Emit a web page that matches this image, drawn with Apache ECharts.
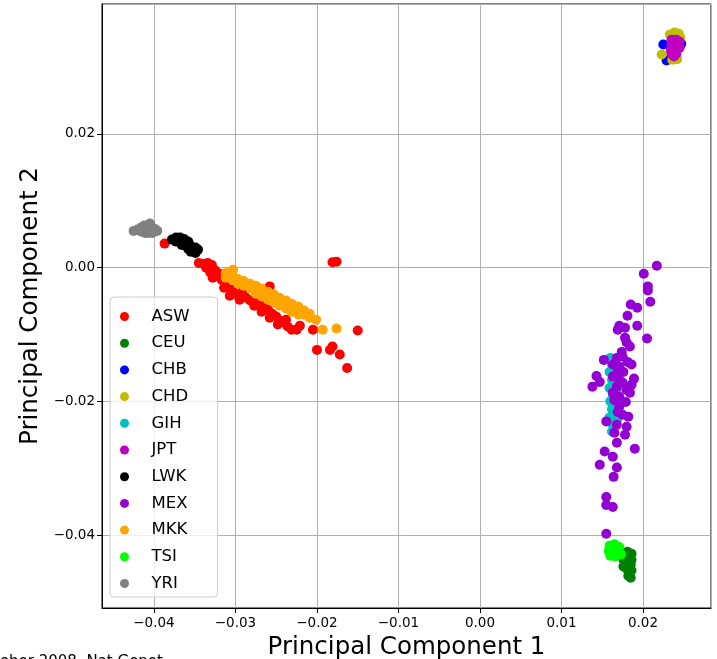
<!DOCTYPE html>
<html>
<head>
<meta charset="utf-8">
<script src="https://cdn.jsdelivr.net/npm/echarts@6/dist/echarts.min.js"></script>
<style>
  html, body { margin: 0; padding: 0; background: #fff; }
  #chart-container { width: 717px; height: 659px; }
</style>
</head>
<body>
<div id="chart-container"></div>
<script>
// populations, in the order matplotlib drew them (later ones sit on top)
const populations = ['ASW', 'CEU', 'CHB', 'CHD', 'GIH', 'JPT', 'LWK', 'MEX', 'MKK', 'TSI', 'YRI'];
const colors = ['#ff0000', '#008000', '#0000ff', '#bfbf00', '#00bfbf', '#bf00bf', '#000000', '#9400d3', '#ffa500', '#00ff00', '#808080'];

// [PC1, PC2] per sample
const ASW = [
  [-0.0387, 0.0036], [-0.0345, 0.0007], [-0.0339, 0.0006], [-0.0334, 0.0007], [-0.0329, 0.0004],
  [-0.0336, 0.0000], [-0.0330, -0.0002], [-0.0325, -0.0004], [-0.0331, -0.0007], [-0.0324, -0.0012],
  [-0.0319, -0.0009], [-0.0328, -0.0015], [-0.0317, -0.0018], [-0.0312, -0.0024], [-0.0314, -0.0030],
  [-0.0304, -0.0033], [-0.0298, -0.0040], [-0.0292, -0.0037], [-0.0287, -0.0045], [-0.0282, -0.0049],
  [-0.0276, -0.0052], [-0.0270, -0.0055], [-0.0277, -0.0057], [-0.0265, -0.0060], [-0.0260, -0.0063],
  [-0.0255, -0.0069], [-0.0258, -0.0075], [-0.0250, -0.0073], [-0.0246, -0.0079], [-0.0248, -0.0085],
  [-0.0241, -0.0082], [-0.0236, -0.0088], [-0.0231, -0.0093], [-0.0225, -0.0093], [-0.0221, -0.0087],
  [-0.0205, -0.0093], [-0.0258, -0.0028], [-0.0181, 0.0008], [-0.0176, 0.0009], [-0.0200, -0.0123],
  [-0.0184, -0.0123], [-0.0181, -0.0118], [-0.0172, -0.0130], [-0.0163, -0.0150], [-0.0150, -0.0094],
  [-0.0307, -0.0042], [-0.0295, -0.0048], [-0.0268, -0.0066], [-0.0238, -0.0078], [-0.0290, -0.0030],
  [-0.0273, -0.0045]
];
const CEU = [
  [0.0181, -0.0425], [0.0186, -0.0428], [0.0180, -0.0434], [0.0186, -0.0437], [0.0179, -0.0443],
  [0.0185, -0.0444], [0.0181, -0.0452], [0.0186, -0.0453], [0.0182, -0.0461], [0.0185, -0.0464],
  [0.0176, -0.0447], [0.0176, -0.0437]
];
const CHB = [
  [0.0225, 0.0334], [0.0229, 0.0310], [0.0233, 0.0334], [0.0239, 0.0329], [0.0243, 0.0338], [0.0247, 0.0335]
];
const CHD = [
  [0.0233, 0.0349], [0.0239, 0.0352], [0.0244, 0.0350], [0.0246, 0.0344], [0.0236, 0.0346],
  [0.0241, 0.0344], [0.0223, 0.0319], [0.0236, 0.0311], [0.0242, 0.0312]
];
const GIH = [
  [0.0160, -0.0135], [0.0162, -0.0145], [0.0159, -0.0156], [0.0162, -0.0168], [0.0159, -0.0180],
  [0.0163, -0.0190], [0.0160, -0.0200], [0.0162, -0.0212], [0.0159, -0.0224], [0.0163, -0.0235],
  [0.0162, -0.0245], [0.0166, -0.0153], [0.0168, -0.0183], [0.0166, -0.0212], [0.0168, -0.0227]
];
const JPT = [
  [0.0235, 0.0341], [0.0241, 0.0341], [0.0235, 0.0334], [0.0241, 0.0334], [0.0234, 0.0326],
  [0.0240, 0.0326], [0.0245, 0.0329], [0.0235, 0.0320], [0.0241, 0.0320], [0.0238, 0.0316],
  [0.0245, 0.0338]
];
const LWK = [
  [-0.0378, 0.0042], [-0.0373, 0.0045], [-0.0368, 0.0045], [-0.0363, 0.0043], [-0.0373, 0.0039],
  [-0.0368, 0.0039], [-0.0363, 0.0037], [-0.0358, 0.0039], [-0.0361, 0.0033], [-0.0356, 0.0034],
  [-0.0353, 0.0030], [-0.0358, 0.0028], [-0.0351, 0.0025], [-0.0349, 0.0022], [-0.0346, 0.0027],
  [-0.0355, 0.0024], [-0.0349, 0.0030], [-0.0366, 0.0034]
];
const MEX = [
  [0.0217, 0.0003], [0.0201, -0.0009], [0.0206, -0.0028], [0.0206, -0.0034], [0.0209, -0.0051],
  [0.0185, -0.0055], [0.0193, -0.0060], [0.0181, -0.0072], [0.0193, -0.0087], [0.0171, -0.0087],
  [0.0169, -0.0093], [0.0178, -0.0090], [0.0205, -0.0106], [0.0178, -0.0105], [0.0180, -0.0112],
  [0.0184, -0.0118], [0.0174, -0.0126], [0.0168, -0.0135], [0.0175, -0.0133], [0.0152, -0.0138],
  [0.0181, -0.0141], [0.0186, -0.0145], [0.0163, -0.0145], [0.0171, -0.0148], [0.0143, -0.0162],
  [0.0138, -0.0178], [0.0147, -0.0171], [0.0189, -0.0166], [0.0186, -0.0175], [0.0163, -0.0163],
  [0.0168, -0.0178], [0.0175, -0.0172], [0.0180, -0.0183], [0.0163, -0.0187], [0.0171, -0.0193],
  [0.0184, -0.0187], [0.0171, -0.0208], [0.0155, -0.0230], [0.0182, -0.0223], [0.0168, -0.0235],
  [0.0180, -0.0238], [0.0165, -0.0247], [0.0178, -0.0250], [0.0168, -0.0262], [0.0153, -0.0275],
  [0.0163, -0.0283], [0.0190, -0.0271], [0.0147, -0.0295], [0.0168, -0.0299], [0.0164, -0.0313],
  [0.0155, -0.0343], [0.0163, -0.0358], [0.0155, -0.0355], [0.0155, -0.0398],
  [0.0169, -0.0156], [0.0176, -0.0156], [0.0171, -0.0168], [0.0179, -0.0201], [0.0169, -0.0216],
  [0.0175, -0.0220], [0.0165, -0.0198]
];
const MKK = [
  [-0.0312, -0.0008], [-0.0312, -0.0015], [-0.0304, -0.0011], [-0.0304, -0.0018], [-0.0303, -0.0003],
  [-0.0297, -0.0017], [-0.0297, -0.0024], [-0.0290, -0.0020], [-0.0290, -0.0027],
  [-0.0282, -0.0024], [-0.0282, -0.0031], [-0.0275, -0.0027], [-0.0275, -0.0034], [-0.0275, -0.0039],
  [-0.0268, -0.0031], [-0.0268, -0.0037], [-0.0268, -0.0043], [-0.0260, -0.0036], [-0.0260, -0.0042],
  [-0.0260, -0.0048], [-0.0253, -0.0040], [-0.0253, -0.0046], [-0.0253, -0.0052], [-0.0246, -0.0045],
  [-0.0246, -0.0051], [-0.0246, -0.0057], [-0.0238, -0.0049], [-0.0238, -0.0055], [-0.0238, -0.0061],
  [-0.0231, -0.0054], [-0.0231, -0.0060], [-0.0231, -0.0066], [-0.0223, -0.0058], [-0.0223, -0.0064],
  [-0.0223, -0.0070], [-0.0216, -0.0064], [-0.0216, -0.0070], [-0.0209, -0.0069], [-0.0209, -0.0075],
  [-0.0201, -0.0078], [-0.0193, -0.0093], [-0.0176, -0.0091]
];
const TSI = [
  [0.0159, -0.0416], [0.0165, -0.0414], [0.0171, -0.0418], [0.0158, -0.0424], [0.0164, -0.0424],
  [0.0170, -0.0425], [0.0160, -0.0431], [0.0166, -0.0432], [0.0173, -0.0429]
];
const YRI = [
  [-0.0425, 0.0055], [-0.0420, 0.0057], [-0.0416, 0.0060], [-0.0416, 0.0054], [-0.0412, 0.0063],
  [-0.0411, 0.0057], [-0.0407, 0.0064], [-0.0407, 0.0058], [-0.0407, 0.0052], [-0.0404, 0.0063],
  [-0.0404, 0.0057], [-0.0402, 0.0052], [-0.0399, 0.0058], [-0.0399, 0.0054], [-0.0396, 0.0055],
  [-0.0411, 0.0052], [-0.0405, 0.0066]
];
const pointsByPop = { ASW, CEU, CHB, CHD, GIH, JPT, LWK, MEX, MKK, TSI, YRI };

const FONT = 'DejaVu Sans';

// matplotlib style tick text: unicode minus, two decimals
function tickText(v) {
  const s = Math.abs(v).toFixed(2);
  return v < -1e-9 ? '\u2212' + s : s;
}

const chart = echarts.init(document.getElementById('chart-container'));

const series = populations.map((name, i) => ({
  name: name,
  type: 'scatter',
  data: pointsByPop[name],
  symbol: 'circle',
  symbolSize: 10,
  itemStyle: { color: colors[i], opacity: 1 },
  emphasis: { disabled: true },
  animation: false
}));

chart.setOption({
  animation: false,
  grid: {
    left: 102, right: 6, top: 4, bottom: 51,
    outerBoundsMode: 'none',
    containLabel: false,
    show: true, borderColor: '#000', borderWidth: 1
  },
  xAxis: {
    type: 'value',
    min: -0.04638,
    max: 0.02835,
    splitNumber: 7,
    name: 'Principal Component 1',
    nameLocation: 'middle',
    nameGap: 25,
    nameTextStyle: { fontFamily: FONT, fontSize: 24.5, color: '#000' },
    axisLine: { show: true, onZero: false, lineStyle: { color: '#000', width: 1 } },
    axisTick: { show: true, inside: false, length: 5, lineStyle: { color: '#000' } },
    axisLabel: {
      fontFamily: FONT, fontSize: 13.5, color: '#000', margin: 8,
      showMinLabel: false, showMaxLabel: false,
      formatter: tickText
    },
    splitLine: { show: true, lineStyle: { color: '#b0b0b0', width: 1 } }
  },
  yAxis: {
    type: 'value',
    min: -0.05092,
    max: 0.03945,
    splitNumber: 5,
    name: 'Principal Component 2',
    nameLocation: 'middle',
    nameGap: 46,
    nameTextStyle: { fontFamily: FONT, fontSize: 24.5, color: '#000' },
    axisLine: { show: true, onZero: false, lineStyle: { color: '#000', width: 1 } },
    axisTick: { show: true, inside: false, length: 5, lineStyle: { color: '#000' } },
    axisLabel: {
      fontFamily: FONT, fontSize: 13.5, color: '#000', margin: 7,
      showMinLabel: false, showMaxLabel: false,
      formatter: tickText
    },
    splitLine: { show: true, lineStyle: { color: '#b0b0b0', width: 1 } }
  },
  legend: {
    data: populations,
    orient: 'vertical',
    left: 110,
    top: 297,
    padding: [11, 28, 5, 10],
    itemWidth: 30,
    itemHeight: 9,
    itemGap: 9.7,
    icon: 'circle',
    backgroundColor: 'rgba(255,255,255,0.8)',
    borderColor: '#cccccc',
    borderWidth: 1,
    borderRadius: 4,
    selectedMode: false,
    textStyle: { fontFamily: FONT, fontSize: 16.5, color: '#000', padding: [0, 0, 0, 7] }
  },
  // cropped citation line at the bottom edge of the figure
  graphic: [{
    type: 'text',
    x: -6,
    y: 655,
    style: { text: 'tober 2008, Nat Genet', font: '15px "DejaVu Sans"', fill: '#000' }
  }],
  series: series
});
</script>
</body>
</html>
